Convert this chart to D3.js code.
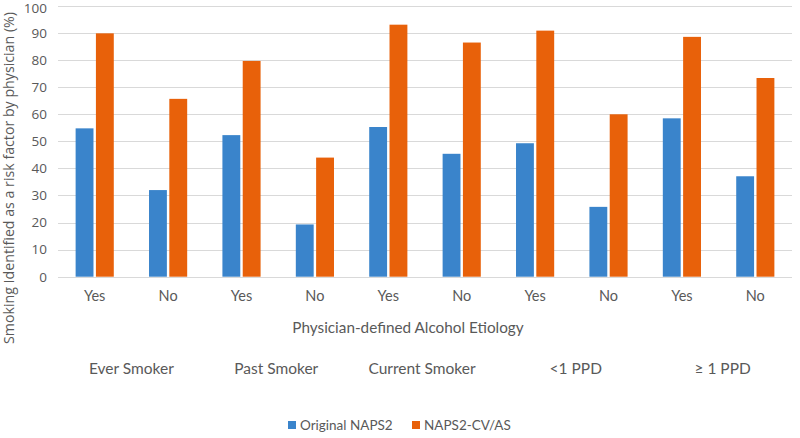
<!DOCTYPE html>
<html><head><meta charset="utf-8">
<script src="https://cdn.jsdelivr.net/npm/d3@7"></script>
<style>
html,body{margin:0;padding:0;background:#fff;}
svg{display:block;}
</style></head>
<body>
<svg id="c" width="800" height="438"></svg>
<script>
const categories = ["Yes","No","Yes","No","Yes","No","Yes","No","Yes","No"];
const groups = ["Ever Smoker","Past Smoker","Current Smoker","<1 PPD","\u2265 1 PPD"];
const seriesNames = ["Original NAPS2","NAPS2-CV/AS"];
const originalNAPS2 = [54.8, 32.0, 52.3, 19.3, 55.3, 45.4, 49.3, 25.8, 58.5, 37.1];
const naps2CVAS = [89.9, 65.7, 79.7, 44.0, 93.1, 86.5, 90.9, 60.0, 88.6, 73.4];
const yTicks = [0,10,20,30,40,50,60,70,80,90,100];
const colors = ["#3A84CB","#E8610A"];

(function(){
const svg = d3.select("#c");
const pL = 58, pR = 792, pT = 6, pB = 276.7;
const idx = d3.range(categories.length);
const x0 = d3.scaleBand().domain(idx).range([pL,pR]).paddingInner(0.48).paddingOuter(0.24);
const x1 = d3.scaleBand().domain([0,1]).range([0,x0.bandwidth()]).paddingInner(0.12);
const y = d3.scaleLinear().domain([0,100]).range([pB,pT]);

svg.append("g").selectAll("line").data(yTicks).join("line")
  .attr("x1",pL).attr("x2",pR)
  .attr("y1",d=>Math.round(y(d))+0.5).attr("y2",d=>Math.round(y(d))+0.5)
  .attr("stroke","#D9D9D9").attr("stroke-width",1);

const yAxis = d3.axisLeft(y).tickValues(yTicks).tickSize(0).tickPadding(11);
const ya = svg.append("g").attr("transform",`translate(${pL},0)`).call(yAxis);
ya.select(".domain").remove();
ya.selectAll("text").attr("fill","#595959").style("font-family","'Open Sans',sans-serif").style("font-size","13.5px");
ya.selectAll(".tick").filter(d=>d===100).select("text").attr("y",2);

const series = [originalNAPS2, naps2CVAS];
series.forEach((vals,s)=>{
  svg.append("g").selectAll("rect").data(vals).join("rect")
    .attr("x",(d,i)=>x0(i)+x1(s))
    .attr("width",x1.bandwidth())
    .attr("y",d=>y(d))
    .attr("height",d=>y(0)-y(d))
    .attr("fill",colors[s]);
});

const xAxis = d3.axisBottom(x0).tickFormat(i=>categories[i]).tickSize(0).tickPadding(14);
const xa = svg.append("g").attr("transform",`translate(0,${pB})`).call(xAxis);
xa.select(".domain").remove();
xa.selectAll("text").attr("fill","#595959").style("font-family","Lato,sans-serif").style("font-size","14.5px");

svg.append("text").attr("x",408).attr("y",333).attr("text-anchor","middle")
  .attr("fill","#595959").style("font-family","Lato,sans-serif").style("font-size","15.3px")
  .text("Physician-defined Alcohol Etiology");

svg.append("g").selectAll("text").data(groups).join("text")
  .attr("x",(d,g)=>(x0(2*g)+x0(2*g+1)+x0.bandwidth())/2 + [0,-2,-3,4,4][g])
  .attr("y",374).attr("text-anchor","middle")
  .attr("fill","#595959").style("font-family","Lato,sans-serif").style("font-size","15.5px")
  .text(d=>d);

svg.append("text").attr("transform","translate(14,178) rotate(-90)").attr("text-anchor","middle")
  .attr("fill","#595959").style("font-family","'Open Sans',sans-serif").style("font-size","14.2px")
  .text("Smoking Identified as a risk factor by physician (%)");

const legX = [288, 412];
const lg = svg.append("g").selectAll("g").data(seriesNames).join("g")
  .attr("transform",(d,i)=>`translate(${legX[i]},421)`);
lg.append("rect").attr("width",8).attr("height",8).attr("fill",(d,i)=>colors[i]);
lg.append("text").attr("x",12).attr("y",9).attr("fill","#595959")
  .style("font-family","Lato,sans-serif").style("font-size","13.5px").text(d=>d);
})();
</script>
</body></html>
